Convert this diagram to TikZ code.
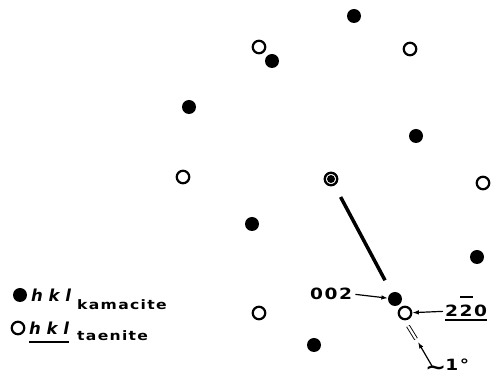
\documentclass[tikz,border=0pt]{standalone}
\usepackage{fontspec}
\usetikzlibrary{arrows.meta}
\newfontfamily\lab[FakeStretch=1.2,LetterSpace=10]{DejaVu Sans}
\newfontfamily\hklf{DejaVu Sans}
\begin{document}
\begin{tikzpicture}[x=1pt,y=-1pt,
  kam/.style={circle,fill=black,inner sep=0,minimum size=14pt},
  tae/.style={circle,draw=black,line width=2.2pt,inner sep=0,minimum size=12.5pt,fill=white},
  ring/.style={circle,draw=black,line width=2.3pt,inner sep=0,minimum size=12.5pt},
  arr/.style={line width=1.2pt,-{Latex[length=6.5pt,width=4.5pt]}},
  lbl/.style={inner sep=0,font=\lab\bfseries\fontsize{15.5}{18}\selectfont},
  sub/.style={inner sep=0,font=\lab\bfseries\fontsize{13}{15}\selectfont},
  hkl/.style={inner sep=0,font=\hklf\bfseries\itshape\fontsize{16.5}{19}\selectfont}]
\useasboundingbox (0,0) rectangle (491,379);
% kamacite reflections
\node[kam] (k1) at (354,16) {};
\node[kam] (k2) at (272,61) {};
\node[kam] (k3) at (189,107) {};
\node[kam] (k4) at (416,136) {};
\node[kam] (k5) at (252,224) {};
\node[kam] (k6) at (477,257) {};
\node[kam] (k7) at (395,299) {};
\node[kam] (k8) at (314,345) {};
% taenite reflections
\node[tae] (t1) at (259,47) {};
\node[tae] (t2) at (410,49) {};
\node[tae] (t3) at (183,177) {};
\node[tae] (t4) at (483,183) {};
\node[tae] (t5) at (259,313) {};
\node[tae] (t6) at (405,313) {};
% centre
\node[ring] (c) at (331,179) {};
\fill (c.center) circle (4);
\draw[line width=3.5pt,shorten <=13pt,shorten >=14pt] (c) -- (k7);
% legend
\node[kam] (lk) at (20,295) {};
\node[hkl,anchor=base west] (h1) at (31,302) {h k l};
\node[sub,anchor=base west] (s1) at (77,310) {kamacite};
\node[tae] (lt) at (18,328) {};
\node[hkl,anchor=base west] (h2) at (29,335) {h k l};
\node[sub,anchor=base west] (s2) at (77,341) {taenite};
\draw[line width=1.6pt] ([yshift=-7pt]h2.base west) -- ([yshift=-7pt]h2.base east);
% labels
\node[lbl,anchor=base west] (l002) at (310,300) {002};
\draw[arr] ([xshift=3pt]l002.east) -- (k7);
\node[lbl,anchor=base west] (l220) at (445,317) {220};
\draw[line width=1.6pt] ([yshift=-3pt]l220.base west) -- ([yshift=-3pt]l220.base east);
\draw[line width=1.8pt] ([xshift=15pt,yshift=20pt]l220.base west) -- ([xshift=27.5pt,yshift=20pt]l220.base west);
\draw[arr] ([xshift=-2pt]l220.west) -- (t6);
\coordinate (d1) at (408,326);
\coordinate (d2) at (416,339);
\draw[double,double distance=2.2pt,line width=0.9pt] (d1) -- (d2);
\node[lbl,anchor=base west] (l1) at (425,371) {\raisebox{-3.5pt}{\fontsize{21}{21}\selectfont\textasciitilde}\kern-1pt 1°};
\coordinate (a1) at (432,366);
\coordinate (tip) at (418,342);
\draw[arr] (a1) -- (tip);
\end{tikzpicture}
\end{document}
